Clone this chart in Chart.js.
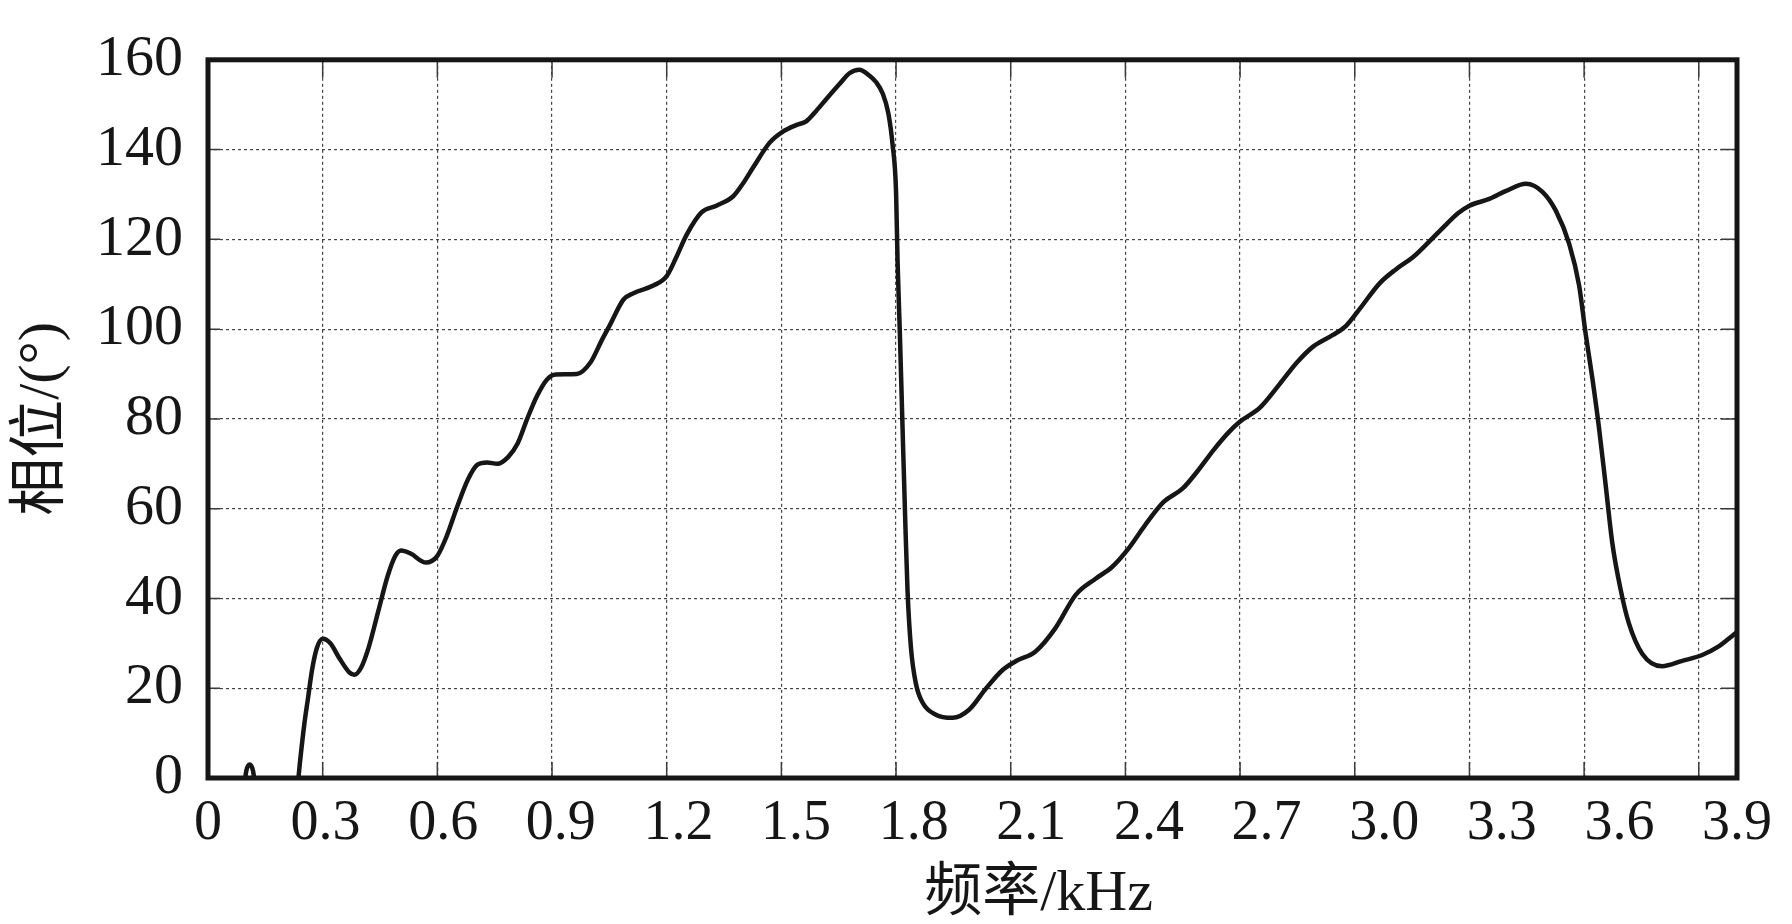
<!DOCTYPE html>
<html>
<head>
<meta charset="utf-8">
<title>相位-频率</title>
<script src="https://cdn.jsdelivr.net/npm/chart.js@4.4.1/dist/chart.umd.min.js"></script>
<style>
    html, body { margin: 0; padding: 0; background: #fff; }
    #wrap { width: 1792px; height: 924px; position: relative; }
</style>
</head>
<body>
<div id="wrap"><canvas id="chart"></canvas></div>
<script>
// small spike near 0.1 kHz (the curve sits under 0 around it)
const blipFreq = [0.092, 0.100, 0.109, 0.118, 0.126];
const blipPhase = [-4, 1.5, 3, 1.5, -4];

// main curve (kHz / degrees)
const freq = [
    0.232, 0.240, 0.252, 0.262, 0.272, 0.285, 0.300, 0.320, 0.345, 0.370,
    0.383, 0.400, 0.420, 0.445, 0.470, 0.490, 0.505, 0.530, 0.570, 0.600,
    0.625, 0.650, 0.680, 0.705, 0.730, 0.757, 0.785, 0.810, 0.835, 0.860,
    0.887, 0.910, 0.965, 1.000, 1.030, 1.052, 1.087, 1.113, 1.165, 1.200,
    1.225, 1.252, 1.291, 1.330, 1.374, 1.400, 1.426, 1.470, 1.504, 1.540,
    1.565, 1.590, 1.620, 1.652, 1.678, 1.704, 1.730, 1.748, 1.765, 1.780,
    1.791, 1.800, 1.804, 1.810, 1.817, 1.824, 1.830, 1.839, 1.852, 1.870,
    1.904, 1.948, 1.991, 2.035, 2.078, 2.113, 2.165, 2.217, 2.270, 2.322,
    2.365, 2.409, 2.452, 2.500, 2.550, 2.590, 2.630, 2.670, 2.700, 2.752,
    2.804, 2.848, 2.891, 2.943, 2.978, 3.013, 3.065, 3.109, 3.152, 3.196,
    3.239, 3.270, 3.300, 3.352, 3.396, 3.448, 3.491, 3.526, 3.561, 3.587,
    3.604, 3.622, 3.639, 3.657, 3.674, 3.696, 3.717, 3.752, 3.804, 3.857,
    3.909, 3.952, 3.991, 4.000
];
const phase = [
    -4, 3, 12, 18, 24, 29, 31, 30, 26.5, 23.5,
    23, 24.5, 29, 37, 45, 49.5, 50.7, 50, 48, 49.5,
    54, 60, 66.5, 69.8, 70.3, 70, 71.5, 74.5, 80, 85,
    88.8, 89.9, 90, 92.5, 97.5, 101, 106.6, 108, 109.7, 111.8,
    116, 121, 126, 127.5, 129.6, 132.5, 136, 141.6, 144, 145.5,
    146.3, 148.5, 151.5, 154.6, 157, 157.8, 156.5, 155, 152.5, 148,
    141, 130.6, 115, 99, 78, 57.5, 41.8, 29, 21, 16.7,
    14.1, 13.4, 15.2, 19.9, 24, 26, 28.2, 33.4, 40.8, 44.4,
    47, 51.2, 56.4, 61.5, 64.5, 68.5, 73, 77, 79.4, 82.5,
    87.8, 92.5, 96.1, 98.7, 100.8, 104.5, 110.2, 113.4, 116, 119.6,
    123.3, 125.8, 127.5, 129, 130.8, 132.4, 130.6, 126.4, 119, 109.7,
    99, 88.8, 78, 64.8, 52.2, 41.8, 34.5, 27.7, 24.9, 26.1,
    27.4, 29.3, 31.9, 32.5
];

// axes
const xMin = 0, xMax = 4.0, xStep = 0.3;        // grid
const xLabelMin = 0, xLabelMax = 3.9;          // printed tick labels
const yMin = 0, yMax = 160, yStep = 20;
const xTitle = '频率/kHz';
const yTitle = '相位/(°)';

const toPoints = (xs, ys) => xs.map((x, i) => ({ x: x, y: ys[i] }));

const serif = '"Liberation Serif", "Noto Sans CJK SC", serif';
const ink = '#161616';

// frame, inward tick marks and the x title
const frameAndTicks = {
    id: 'frameAndTicks',
    afterDraw(chart) {
        const { ctx, chartArea: a, scales } = chart;
        ctx.save();
        ctx.strokeStyle = '#3a3a3a';
        ctx.lineWidth = 1.5;
        ctx.beginPath();
        scales.x.ticks.forEach(t => {
            const px = scales.x.getPixelForValue(t.value);
            ctx.moveTo(px, a.bottom); ctx.lineTo(px, a.bottom - 16);
            ctx.moveTo(px, a.top); ctx.lineTo(px, a.top + 18);
        });
        scales.y.ticks.forEach(t => {
            const py = scales.y.getPixelForValue(t.value);
            ctx.moveTo(a.left, py); ctx.lineTo(a.left + 12, py);
            ctx.moveTo(a.right, py); ctx.lineTo(a.right - 16, py);
        });
        ctx.stroke();

        ctx.lineWidth = 5;
        ctx.strokeStyle = ink;
        ctx.strokeRect(a.left, a.top, a.right - a.left, a.bottom - a.top);

        ctx.fillStyle = ink;
        ctx.font = '58px ' + serif;
        ctx.textAlign = 'center';
        ctx.textBaseline = 'middle';
        ctx.fillText(xTitle, (a.left + a.right) / 2 + 66, a.bottom + 117);
        ctx.restore();
    }
};

const lineStyle = {
    borderColor: ink,
    borderWidth: 4.5,
    pointRadius: 0,
    fill: false,
    cubicInterpolationMode: 'monotone'
};

new Chart(document.getElementById('chart'), {
    type: 'line',
    data: {
        datasets: [
            Object.assign({ label: 'blip', data: toPoints(blipFreq, blipPhase) }, lineStyle),
            Object.assign({ label: yTitle, data: toPoints(freq, phase) }, lineStyle)
        ]
    },
    options: {
        responsive: true,
        maintainAspectRatio: false,
        animation: false,
        devicePixelRatio: 1,
        layout: { padding: { top: 58, right: 55, left: 0, bottom: 0 } },
        plugins: {
            legend: { display: false },
            tooltip: { enabled: false }
        },
        scales: {
            x: {
                type: 'linear',
                position: 'bottom',
                min: xMin,
                max: xMax,
                ticks: { display: false, stepSize: xStep, includeBounds: false },
                grid: { color: '#444', lineWidth: 1.2, drawTicks: false },
                border: { display: false, dash: [3, 3] },
                afterFit(scale) { scale.height = 0; }
            },
            xLabels: {
                type: 'linear',
                position: 'bottom',
                min: xLabelMin,
                max: xLabelMax,
                ticks: {
                    stepSize: xStep,
                    autoSkip: false,
                    maxRotation: 0,
                    padding: 13,
                    color: ink,
                    font: { family: serif, size: 56 },
                    callback: v => (v === 0 ? '0' : v.toFixed(1))
                },
                grid: { display: false, drawTicks: false },
                border: { display: false },
                afterFit(scale) { scale.height = 146; }
            },
            y: {
                min: yMin,
                max: yMax,
                ticks: {
                    stepSize: yStep,
                    padding: 25,
                    color: ink,
                    font: { family: serif, size: 58 }
                },
                grid: { color: '#444', lineWidth: 1.2, drawTicks: false },
                border: { display: false, dash: [3, 3] },
                title: {
                    display: true,
                    text: yTitle,
                    color: ink,
                    font: { family: serif, size: 58 },
                    padding: { top: 8, bottom: 0 }
                },
                afterFit(scale) { scale.width = 208; }
            }
        }
    },
    plugins: [frameAndTicks]
});
</script>
</body>
</html>
